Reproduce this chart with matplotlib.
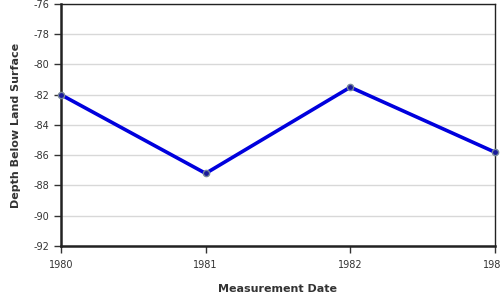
import matplotlib
matplotlib.use("Agg")
import matplotlib.pyplot as plt

years = [1980, 1981, 1982, 1983]
depth = [-82.0, -87.2, -81.5, -85.8]
yticks = [-76, -78, -80, -82, -84, -86, -88, -90, -92]
xticks = [1980, 1981, 1982, 1983]

plt.rcParams['axes.unicode_minus'] = False
plt.rcParams['font.family'] = ['DejaVu Sans']

fig = plt.figure(figsize=(5, 3), dpi=100)
ax = fig.add_axes([0.122, 0.18, 0.868, 0.8067])

ax.plot(years, depth, color='#0000dd', lw=2.6, zorder=3, solid_capstyle='round')
ax.plot(years, depth, ls='none', marker='o', ms=4.5, mfc='#1a1a99', mec='#778899', mew=1, zorder=4, clip_on=False)

ax.set_xlim(1980, 1983)
ax.set_ylim(-92, -76)
ax.set_yticks(yticks)
ax.set_xticks(xticks)
ax.set_xticklabels([str(x) for x in xticks])
ax.yaxis.grid(True, color='#d8d8d8', lw=1)
ax.set_axisbelow(True)

for s in ['left', 'bottom']:
    ax.spines[s].set_linewidth(1.8)
    ax.spines[s].set_color('#222222')
for s in ['top', 'right']:
    ax.spines[s].set_linewidth(1.0)
    ax.spines[s].set_color('#222222')

ax.tick_params(axis='both', labelsize=7, colors='#333333', length=5, width=1)
ax.tick_params(axis='x', pad=5)
ax.set_xlabel('Measurement Date', fontsize=8, fontweight='bold', color='#333333', labelpad=10)
ax.set_ylabel('Depth Below Land Surface', fontsize=8, fontweight='bold', color='#333333', labelpad=9)

fig.savefig('out.png', dpi=100)
